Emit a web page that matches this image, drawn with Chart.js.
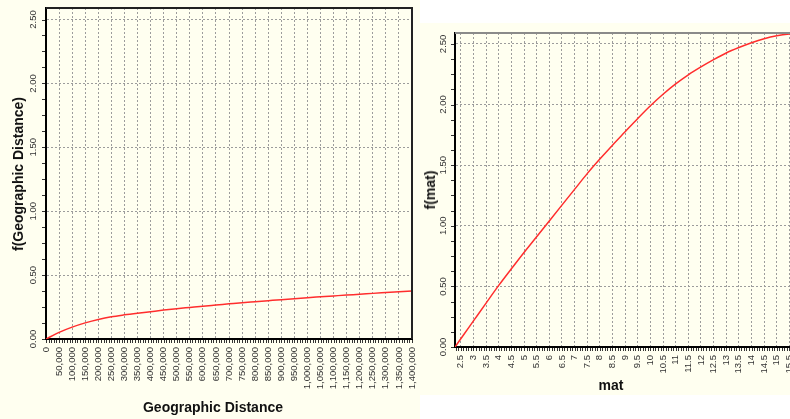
<!DOCTYPE html>
<html>
<head>
<meta charset="utf-8">
<script src="https://cdn.jsdelivr.net/npm/chart.js@4.4.1/dist/chart.umd.min.js"></script>
<style>
  html, body { margin: 0; padding: 0; background: #fff; overflow: hidden; }
  #leftPanel { position: absolute; left: 0; top: 0; width: 420px; height: 419px; background: #fffff0; }
  #rightPanel { position: absolute; left: 420px; top: 23px; width: 390px; height: 372px; background: #fffff0; }
  canvas { display: block; }
  .axisTitle {
    position: absolute;
    font: bold 14px "Liberation Sans", Arial, sans-serif;
    color: #111;
    white-space: nowrap;
    transform: translate(-50%, -50%);
  }
  .axisTitle.vert { transform: translate(-50%, -50%) rotate(-90deg); }
</style>
</head>
<body>
<div id="leftPanel"><canvas id="geoChart" width="420" height="419"></canvas></div>
<div id="rightPanel"><canvas id="matChart" width="390" height="372"></canvas></div>
<div class="axisTitle vert" style="left:18px; top:174px;">f(Geographic Distance)</div>
<div class="axisTitle" style="left:213px; top:407px;">Geographic Distance</div>
<div class="axisTitle vert" style="left:430px; top:190px;">f(mat)</div>
<div class="axisTitle" style="left:611px; top:385px;">mat</div>
<script>
// left chart: f(Geographic Distance)
const geoDist = [0, 50000, 100000, 150000, 200000, 250000, 300000, 350000, 400000, 450000,
  500000, 550000, 600000, 650000, 700000, 750000, 800000, 850000, 900000, 950000,
  1000000, 1050000, 1100000, 1150000, 1200000, 1250000, 1300000, 1350000, 1400000];
const geoF = [0, 0.052, 0.093, 0.126, 0.153, 0.174, 0.189, 0.202, 0.214, 0.226,
  0.237, 0.247, 0.257, 0.266, 0.275, 0.284, 0.292, 0.300, 0.308, 0.315,
  0.323, 0.330, 0.337, 0.344, 0.350, 0.357, 0.363, 0.369, 0.375];
const geoTicks = geoDist.slice();

// right chart: f(mat)
const matX = [2.27, 2.5, 3, 3.5, 4, 4.5, 5, 5.5, 6, 6.5, 7, 7.5, 8, 8.5, 9, 9.5,
  10, 10.5, 11, 11.5, 12, 12.5, 13, 13.5, 14, 14.5, 15, 15.5, 15.8];
const matF = [0, 0.068, 0.215, 0.362, 0.508, 0.645, 0.78, 0.91, 1.04, 1.17, 1.30, 1.43,
  1.55, 1.665, 1.775, 1.885, 1.99, 2.085, 2.17, 2.245, 2.31, 2.37, 2.425, 2.47,
  2.51, 2.543, 2.567, 2.582, 2.587];
const matTicks = [2.5, 3, 3.5, 4, 4.5, 5, 5.5, 6, 6.5, 7, 7.5, 8, 8.5, 9, 9.5, 10,
  10.5, 11, 11.5, 12, 12.5, 13, 13.5, 14, 14.5, 15, 15.5];

const fTicks = [0, 0.5, 1, 1.5, 2, 2.5];

const TICK_FONT = { family: '"Liberation Sans", Arial, sans-serif', size: 9.5 };
const TICK_COLOR = "#333";
const GRID_COLOR = "#9c9c9c";

// small tick marks below x axis / left of y axis
const minorTicks = {
  id: "minorTicks",
  afterDraw(chart, args, opts) {
    const { ctx, chartArea: a, scales } = chart;
    const x = scales.x, y = scales.y;
    ctx.save();
    ctx.strokeStyle = "#333";
    ctx.lineWidth = 1;
    ctx.beginPath();
    for (let n = Math.ceil(x.min / opts.xStep); n * opts.xStep <= x.max + 1e-9; n++) {
      const px = Math.round(x.getPixelForValue(n * opts.xStep)) + 0.5;
      ctx.moveTo(px, a.bottom + 1);
      ctx.lineTo(px, a.bottom + 4);
    }
    for (let n = Math.ceil(y.min / opts.yStep); n * opts.yStep <= y.max + 1e-9; n++) {
      const py = Math.round(y.getPixelForValue(n * opts.yStep)) + 0.5;
      ctx.moveTo(a.left - 1, py);
      ctx.lineTo(a.left - 4, py);
    }
    ctx.stroke();
    ctx.restore();
  }
};

// y labels are drawn rotated like the original
const rotatedYLabels = {
  id: "rotatedYLabels",
  afterDraw(chart, args, opts) {
    const { ctx, chartArea: a, scales } = chart;
    const y = scales.y;
    ctx.save();
    ctx.font = `${TICK_FONT.size}px ${TICK_FONT.family}`;
    ctx.fillStyle = TICK_COLOR;
    ctx.textAlign = "center";
    ctx.textBaseline = "middle";
    for (const t of y.ticks) {
      const py = y.getPixelForValue(t.value);
      ctx.save();
      ctx.translate(a.left - opts.offset, py);
      ctx.rotate(-Math.PI / 2);
      ctx.fillText(Number(t.value).toFixed(2), 0, 0);
      ctx.restore();
    }
    ctx.restore();
  }
};

// top / right frame lines
const frame = {
  id: "frame",
  afterDraw(chart, args, opts) {
    const { ctx, chartArea: a } = chart;
    ctx.save();
    ctx.strokeStyle = opts.color;
    ctx.lineWidth = 2;
    ctx.beginPath();
    ctx.moveTo(a.left, a.top);
    ctx.lineTo(a.right, a.top);
    if (opts.right) ctx.lineTo(a.right, a.bottom);
    ctx.stroke();
    ctx.restore();
  }
};

function makeChart(id, xs, ys, cfg) {
  const ctx = document.getElementById(id).getContext("2d");
  return new Chart(ctx, {
    type: "line",
    data: {
      datasets: [{
        data: xs.map((v, i) => ({ x: v, y: ys[i] })),
        borderColor: "rgb(255, 45, 45)",
        borderWidth: 1.5,
        pointRadius: 0,
        cubicInterpolationMode: "monotone",
        fill: false
      }]
    },
    options: {
      responsive: false,
      animation: false,
      layout: { padding: cfg.padding },
      plugins: {
        legend: { display: false },
        tooltip: { enabled: false },
        minorTicks: { xStep: cfg.minorX, yStep: 0.125 },
        rotatedYLabels: { offset: cfg.yLabelOffset },
        frame: { color: cfg.frameColor, right: cfg.frameRight }
      },
      scales: {
        x: {
          type: "linear",
          min: cfg.xMin,
          max: cfg.xMax,
          afterBuildTicks: (s) => { s.ticks = cfg.xTicks.map((v) => ({ value: v })); },
          afterFit: (s) => { s.height = cfg.xHeight; s.paddingLeft = 0; s.paddingRight = 0; },
          grid: { color: GRID_COLOR, lineWidth: 1, drawTicks: false },
          border: { display: true, color: "#000", width: 2, dash: [2, 2] },
          ticks: {
            autoSkip: false,
            maxRotation: 90,
            minRotation: 90,
            padding: 8,
            color: TICK_COLOR,
            font: TICK_FONT,
            callback: cfg.xFormat
          }
        },
        y: {
          type: "linear",
          min: 0,
          max: 2.59,
          afterBuildTicks: (s) => { s.ticks = fTicks.map((v) => ({ value: v })); },
          afterFit: (s) => { s.width = cfg.yWidth; s.paddingTop = 0; s.paddingBottom = 0; },
          grid: { color: GRID_COLOR, lineWidth: 1, drawTicks: false },
          border: { display: true, color: "#000", width: 2, dash: [2, 2] },
          ticks: { display: false }
        }
      }
    },
    plugins: [minorTicks, rotatedYLabels, frame]
  });
}

makeChart("geoChart", geoDist, geoF, {
  xMin: 0, xMax: 1400000, xTicks: geoTicks, minorX: 10000,
  xFormat: (v) => Number(v).toLocaleString("en-US"),
  padding: { top: 8, right: 8, left: 0, bottom: 0 },
  xHeight: 80, yWidth: 46, yLabelOffset: 13,
  frameColor: "#222", frameRight: true
});

makeChart("matChart", matX, matF, {
  xMin: 2.27, xMax: 15.8, xTicks: matTicks, minorX: 0.1,
  xFormat: (v) => String(v),
  padding: { top: 10, right: 13, left: 0, bottom: 0 },
  xHeight: 48, yWidth: 35, yLabelOffset: 12,
  frameColor: "#8a8a8a", frameRight: false
});
</script>
</body>
</html>
